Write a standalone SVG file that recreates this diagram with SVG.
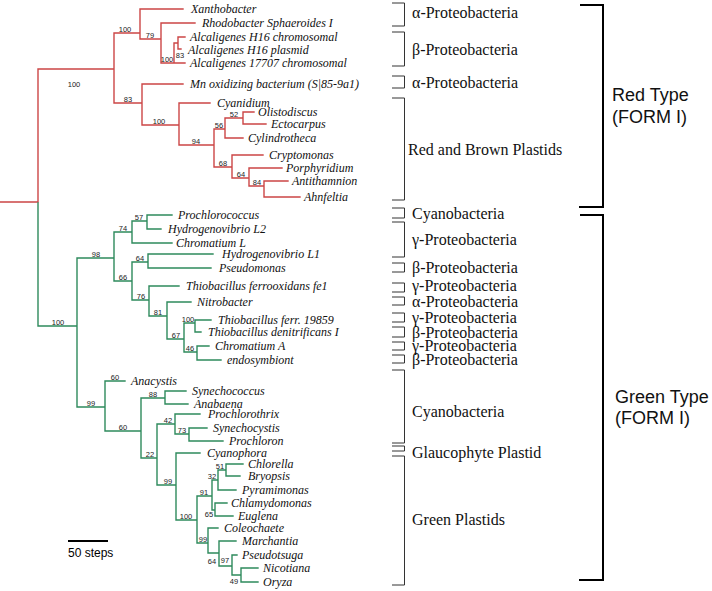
<svg xmlns="http://www.w3.org/2000/svg" width="712" height="591" viewBox="0 0 712 591">
<style>
.r{fill:none;stroke:#cc4646;stroke-width:1.4;stroke-linecap:square}
.g{fill:none;stroke:#2e8a5c;stroke-width:1.4;stroke-linecap:square}
.sp{font-family:"Liberation Serif","Times New Roman",serif;font-style:italic;font-size:12px;fill:#111}
.bs{font-family:"Liberation Sans",Arial,sans-serif;font-size:7.5px;fill:#222;text-anchor:middle}
.cl{font-family:"Liberation Serif","Times New Roman",serif;font-size:16px;fill:#111}
.ty{font-family:"Liberation Sans",Arial,sans-serif;font-size:18px;fill:#111}
.sb{fill:none;stroke:#333;stroke-width:1}
.bb{fill:none;stroke:#000;stroke-width:2}
</style>
<rect width="712" height="591" fill="#fff"/>
<g id="connectors">
<path class="r" d="M0 202H38M38 69V202M38 69H114M114 33V103M114 33H140M140 9V39M140 9H183M140 39H161M161 23V63M161 23H195M161 63H185M174 43V63M174 43H178M178 37V49M178 37H185M178 49H181M114 103H142M142 84V125M142 84H183M142 125H179M179 103V145M179 103H210M179 145H214M214 129V167M214 129H225M225 118V138M225 118H243M243 112V124M243 112H254M243 124H266M225 138H243M214 167H232M232 155V178M232 155H263M232 178H249M249 168V186M249 168H282M249 186H264M264 181V197M264 181H288M264 197H300"/>
<path class="g" d="M38 203V326M38 326H77M77 258V407M77 258H114M114 232V281M114 232H132M132 221V243M132 221H147M147 215V229M147 215H172M147 229H161M132 243H172M114 281H132M132 262V300M132 262H148M148 254V268M148 254H213M148 268H211M132 300H149M149 286V316M149 286H179M149 316H167M167 302V339M167 302H191M167 339H184M184 323V352M184 323H195M195 320V332M195 320H211M195 332H201M184 352H197M197 346V360M197 346H209M197 360H221M77 407H105M105 381V431M105 381H125M105 431H141M141 398V458M141 398H165M165 391V404M165 391H186M165 404H188M141 458H157M157 424V485M157 424H175M175 414V434M175 414H200M175 434H189M189 428V441M189 428H207M189 441H223M157 485H176M176 453V520M176 453H200M176 520H197M197 496V543M197 496H212M212 480V510M212 480H218M218 470V490M218 470H226M226 464V476M226 464H243M226 476H240M218 490H236M212 510H215M215 503V516M215 503H227M215 516H233M197 543H208M208 528V553M208 528H218M208 553H219M219 541V566M219 541H236M219 566H232M232 555V575M232 555H237M232 575H241M241 568V582M241 568H258M241 582H258"/>
</g>
<g id="bootstrap">
<text class="bs" x="74" y="87">100</text>
<text class="bs" x="125" y="31.5">100</text>
<text class="bs" x="150" y="37.5">79</text>
<text class="bs" x="167" y="61.5">100</text>
<text class="bs" x="180" y="58">83</text>
<text class="bs" x="128" y="101.5">83</text>
<text class="bs" x="159" y="123.5">100</text>
<text class="bs" x="196" y="143.5">94</text>
<text class="bs" x="219" y="127.5">56</text>
<text class="bs" x="234" y="116.5">52</text>
<text class="bs" x="223" y="165.5">68</text>
<text class="bs" x="241" y="176.5">64</text>
<text class="bs" x="257" y="184.5">84</text>
<text class="bs" x="58" y="324.5">100</text>
<text class="bs" x="96" y="256.5">98</text>
<text class="bs" x="123" y="230.5">74</text>
<text class="bs" x="139" y="219.5">57</text>
<text class="bs" x="123" y="279.5">66</text>
<text class="bs" x="140" y="260.5">64</text>
<text class="bs" x="141" y="298.5">76</text>
<text class="bs" x="158" y="314.5">81</text>
<text class="bs" x="176" y="337.5">67</text>
<text class="bs" x="188" y="321.5">100</text>
<text class="bs" x="190" y="350.5">46</text>
<text class="bs" x="91" y="405.5">99</text>
<text class="bs" x="115" y="379.5">60</text>
<text class="bs" x="123" y="429.5">60</text>
<text class="bs" x="153" y="396.5">88</text>
<text class="bs" x="150" y="456.5">22</text>
<text class="bs" x="168" y="422.5">42</text>
<text class="bs" x="182" y="432.5">73</text>
<text class="bs" x="168" y="483.5">99</text>
<text class="bs" x="186" y="518.5">100</text>
<text class="bs" x="204" y="494.5">91</text>
<text class="bs" x="212" y="478.5">32</text>
<text class="bs" x="220" y="468.5">51</text>
<text class="bs" x="209" y="517">65</text>
<text class="bs" x="203" y="541.5">99</text>
<text class="bs" x="212" y="564">64</text>
<text class="bs" x="225" y="563">97</text>
<text class="bs" x="234" y="584">49</text>
</g>
<g id="taxa">
<text id="t1" class="sp" x="191" y="13">Xanthobacter</text>
<text id="t2" class="sp" x="202" y="27">Rhodobacter Sphaeroides I</text>
<text id="t3" class="sp" x="190" y="41">Alcaligenes H16 chromosomal</text>
<text id="t4" class="sp" x="188" y="54">Alcaligenes H16 plasmid</text>
<text id="t5" class="sp" x="190" y="67">Alcaligenes 17707 chromosomal</text>
<text id="t6" class="sp" x="190" y="88">Mn oxidizing bacterium (S|85-9a1)</text>
<text id="t7" class="sp" x="217" y="107">Cyanidium</text>
<text id="t8" class="sp" x="258" y="116">Olistodiscus</text>
<text id="t9" class="sp" x="271" y="128">Ectocarpus</text>
<text id="t10" class="sp" x="248" y="142">Cylindrotheca</text>
<text id="t11" class="sp" x="269" y="159">Cryptomonas</text>
<text id="t12" class="sp" x="286" y="172">Porphyridium</text>
<text id="t13" class="sp" x="292" y="185">Antithamnion</text>
<text id="t14" class="sp" x="304" y="201">Ahnfeltia</text>
<text id="t15" class="sp" x="178" y="219">Prochlorococcus</text>
<text id="t16" class="sp" x="168" y="233">Hydrogenovibrio L2</text>
<text id="t17" class="sp" x="176" y="247">Chromatium L</text>
<text id="t18" class="sp" x="222" y="258">Hydrogenovibrio L1</text>
<text id="t19" class="sp" x="219" y="272">Pseudomonas</text>
<text id="t20" class="sp" x="186" y="290">Thiobacillus ferrooxidans fe1</text>
<text id="t21" class="sp" x="197" y="306">Nitrobacter</text>
<text id="t22" class="sp" x="218" y="324">Thiobacillus ferr. 19859</text>
<text id="t23" class="sp" x="208" y="336">Thiobacillus denitrificans I</text>
<text id="t24" class="sp" x="215" y="350">Chromatium A</text>
<text id="t25" class="sp" x="227" y="364">endosymbiont</text>
<text id="t26" class="sp" x="131" y="385">Anacystis</text>
<text id="t27" class="sp" x="192" y="395">Synechococcus</text>
<text id="t28" class="sp" x="194" y="408">Anabaena</text>
<text id="t29" class="sp" x="208" y="418">Prochlorothrix</text>
<text id="t30" class="sp" x="213" y="432">Synechocystis</text>
<text id="t31" class="sp" x="229" y="445">Prochloron</text>
<text id="t32" class="sp" x="207" y="457">Cyanophora</text>
<text id="t33" class="sp" x="248" y="468">Chlorella</text>
<text id="t34" class="sp" x="248" y="480">Bryopsis</text>
<text id="t35" class="sp" x="242" y="494">Pyramimonas</text>
<text id="t36" class="sp" x="231" y="507">Chlamydomonas</text>
<text id="t37" class="sp" x="238" y="520">Euglena</text>
<text id="t38" class="sp" x="224" y="532">Coleochaete</text>
<text id="t39" class="sp" x="242" y="545">Marchantia</text>
<text id="t40" class="sp" x="242" y="559">Pseudotsuga</text>
<text id="t41" class="sp" x="263" y="572">Nicotiana</text>
<text id="t42" class="sp" x="263" y="586">Oryza</text>
</g>
<g id="groups">
<path class="sb" d="M392 3H404.5V26H392M392 32H404.5V66H392M392 76H404.5V88H392M392 98H404.5V200H392M392 208H404.5V218H392M392 222H404.5V257H392M392 263H404.5V272H392M392 283H404.5V292H392M392 297H404.5V305H392M392 313H404.5V322H392M392 327H404.5V337H392M392 342H404.5V350H392M392 355H404.5V363H392M392 370H404.5V443H392M392 446H404.5V451H392M392 456H404.5V585H392"/>
<text class="cl" x="412" y="17.5">α-Proteobacteria</text>
<text class="cl" x="412" y="54.5">β-Proteobacteria</text>
<text class="cl" x="412" y="87.5">α-Proteobacteria</text>
<text class="cl" x="408" y="154.5">Red and Brown Plastids</text>
<text class="cl" x="412" y="218.5">Cyanobacteria</text>
<text class="cl" x="412" y="244.5">γ-Proteobacteria</text>
<text class="cl" x="412" y="272.5">β-Proteobacteria</text>
<text class="cl" x="412" y="290.5">γ-Proteobacteria</text>
<text class="cl" x="412" y="306.5">α-Proteobacteria</text>
<text class="cl" x="412" y="322.5">γ-Proteobacteria</text>
<text class="cl" x="412" y="337.5">β-Proteobacteria</text>
<text class="cl" x="412" y="350.5">γ-Proteobacteria</text>
<text class="cl" x="412" y="364.5">β-Proteobacteria</text>
<text class="cl" x="412" y="416.5">Cyanobacteria</text>
<text class="cl" x="412" y="457.5">Glaucophyte Plastid</text>
<text class="cl" x="412" y="524.5">Green Plastids</text>
</g>
<g id="types">
<path class="bb" d="M580 5H603V207H579M580 215H603V580H579"/>
<text class="ty" x="612" y="101">Red Type</text>
<text class="ty" x="612" y="123">(FORM I)</text>
<text class="ty" x="615" y="403">Green Type</text>
<text class="ty" x="615" y="424">(FORM I)</text>
</g>
<g id="scale">
<path d="M68 541H108" stroke="#000" stroke-width="2"/>
<text x="68" y="557" font-family="Liberation Sans,Arial,sans-serif" font-size="12">50 steps</text>
</g>
</svg>
